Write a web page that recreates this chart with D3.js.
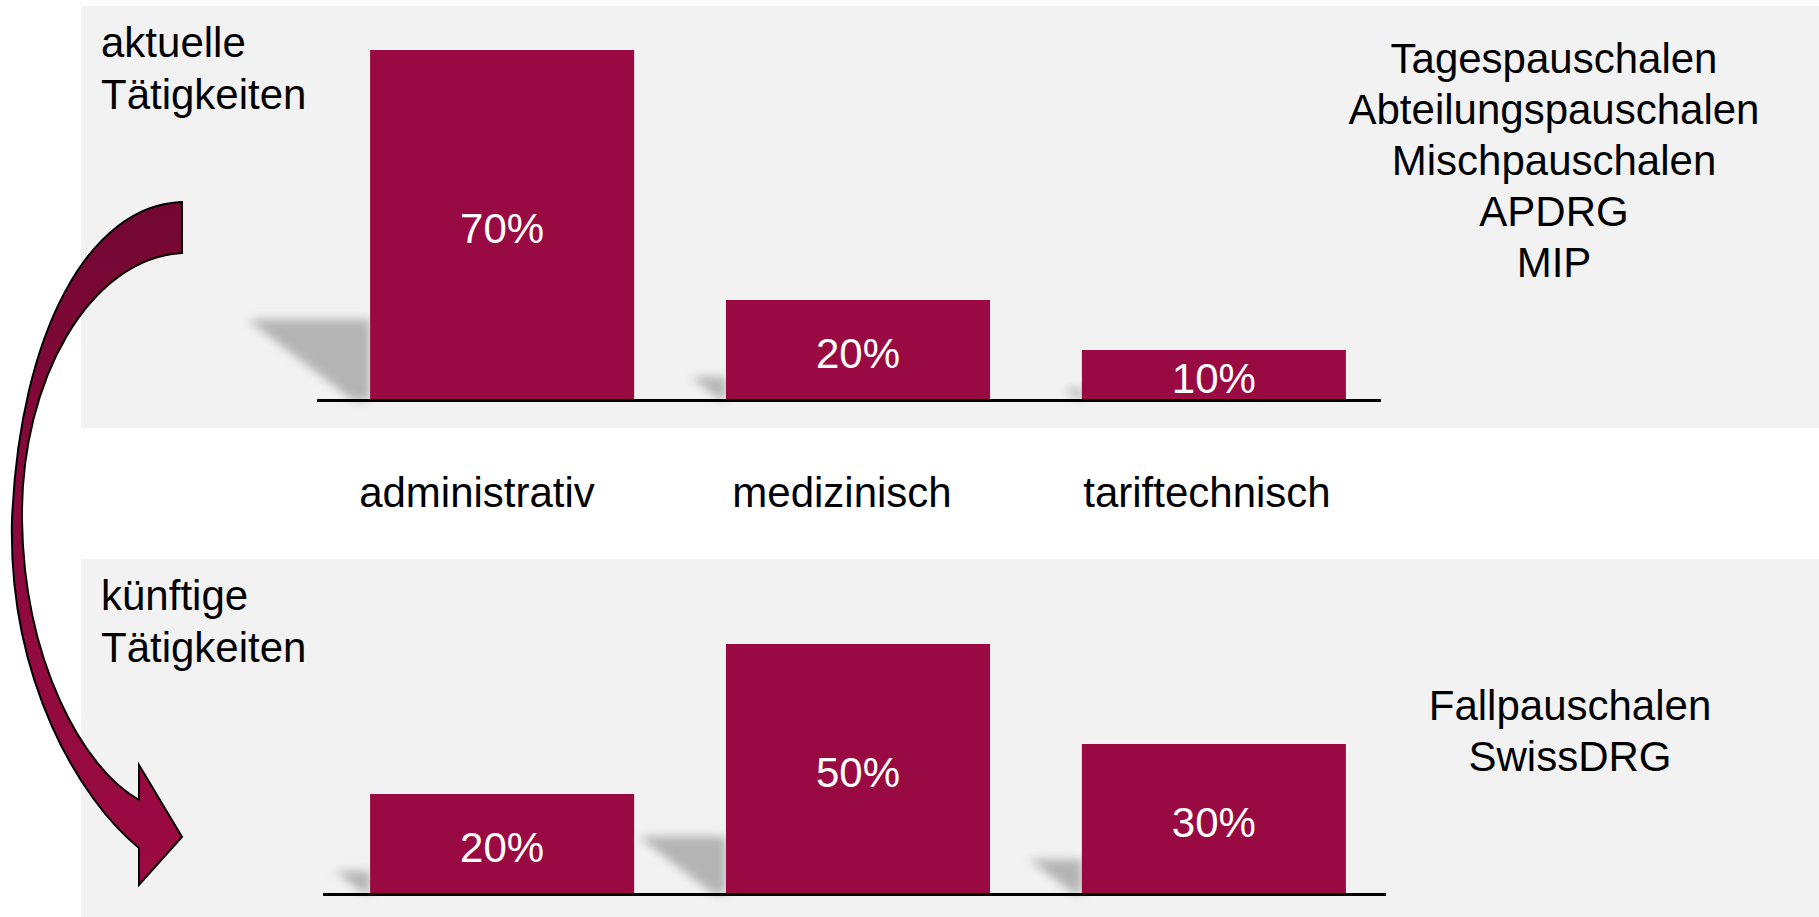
<!DOCTYPE html>
<html>
<head>
<meta charset="utf-8">
<script src="https://cdn.jsdelivr.net/npm/d3@7"></script>
<style>
  html, body { margin: 0; padding: 0; background: #ffffff; }
  svg { display: block; }
  text { font-family: "Liberation Sans", Arial, Helvetica, sans-serif; }
</style>
</head>
<body>
<svg id="chart" width="1819" height="917"></svg>
<script>
// ---- data ----
const categories = ["administrativ", "medizinisch", "tariftechnisch"];
const currentValues = [70, 20, 10];   // aktuelle Tätigkeiten (%)
const futureValues  = [20, 50, 30];   // künftige Tätigkeiten (%)
const currentTitle = ["aktuelle", "Tätigkeiten"];
const futureTitle  = ["künftige", "Tätigkeiten"];
const currentTariffs = ["Tagespauschalen", "Abteilungspauschalen", "Mischpauschalen", "APDRG", "MIP"];
const futureTariffs  = ["Fallpauschalen", "SwissDRG"];

// ---- setup ----
const W = 1819, H = 917;
const svg = d3.select("#chart");
const barColor = "#9a0a42";
const panelColor = "#f2f2f2";
const fontSize = 42;

const defs = svg.append("defs");
defs.append("filter").attr("id", "blur")
  .attr("x", "-50%").attr("y", "-50%").attr("width", "200%").attr("height", "200%")
  .append("feGaussianBlur").attr("stdDeviation", 5);
const grad = defs.append("linearGradient").attr("id", "arrowGrad")
  .attr("x1", 0).attr("y1", 0).attr("x2", 0).attr("y2", 1);
grad.append("stop").attr("offset", "0%").attr("stop-color", "#730732");
grad.append("stop").attr("offset", "55%").attr("stop-color", "#8e0a3e");
grad.append("stop").attr("offset", "100%").attr("stop-color", "#9c0a42");

// Panels
svg.append("rect").attr("x", 81).attr("y", 6).attr("width", W - 81).attr("height", 422).attr("fill", panelColor);
svg.append("rect").attr("x", 81).attr("y", 559).attr("width", W - 81).attr("height", H - 559).attr("fill", panelColor);

// Scales
const x = d3.scaleBand().domain(categories)
  .range([316, 1400]).paddingInner(0.258).paddingOuter(0.152);
const xLabel = d3.scalePoint().domain(categories).range([477, 1207]);

const panels = [
  { values: currentValues, base: 400, title: currentTitle, titleY: 57, tariffs: currentTariffs, tariffX: 1554, tariffY: 73, lineX: [317, 1381] },
  { values: futureValues,  base: 894, title: futureTitle,  titleY: 610, tariffs: futureTariffs, tariffX: 1570, tariffY: 720, lineX: [323, 1386] }
];

panels.forEach(p => {
  const y = d3.scaleLinear().domain([0, 70]).range([p.base, p.base - 350]);
  const g = svg.append("g");
  const data = categories.map((c, i) => ({ cat: c, v: p.values[i] }));

  // shadows
  g.selectAll("polygon.shadow").data(data).join("polygon")
    .attr("class", "shadow")
    .attr("points", d => {
      const h = p.base - y(d.v);
      const l = x(d.cat);
      return [[l - 0.35 * h, p.base - 0.23 * h], [l, p.base - 0.23 * h], [l, p.base], [l - 0.05 * h, p.base]]
        .map(q => q.join(",")).join(" ");
    })
    .attr("fill", "#b4b4b4")
    .attr("filter", "url(#blur)");

  // bars
  g.selectAll("rect.bar").data(data).join("rect")
    .attr("class", "bar")
    .attr("x", d => x(d.cat))
    .attr("y", d => y(d.v))
    .attr("width", x.bandwidth())
    .attr("height", d => p.base - y(d.v))
    .attr("fill", barColor);

  // value labels
  g.selectAll("text.val").data(data).join("text")
    .attr("class", "val")
    .attr("x", d => x(d.cat) + x.bandwidth() / 2)
    .attr("y", d => (y(d.v) + p.base) / 2 + 3)
    .attr("text-anchor", "middle")
    .attr("dominant-baseline", "central")
    .attr("font-size", fontSize)
    .attr("fill", "#ffffff")
    .text(d => d.v + "%");

  // baseline
  g.append("line")
    .attr("x1", p.lineX[0]).attr("x2", p.lineX[1])
    .attr("y1", p.base + 0.5).attr("y2", p.base + 0.5)
    .attr("stroke", "#000").attr("stroke-width", 3);

  // title
  g.selectAll("text.title").data(p.title).join("text")
    .attr("class", "title")
    .attr("x", 101).attr("y", (d, i) => p.titleY + i * 51.5)
    .attr("font-size", fontSize).attr("fill", "#000")
    .text(d => d);

  // tariffs
  g.selectAll("text.tariff").data(p.tariffs).join("text")
    .attr("class", "tariff")
    .attr("x", p.tariffX)
    .attr("y", (d, i) => p.tariffY + i * 51)
    .attr("text-anchor", "middle")
    .attr("font-size", fontSize).attr("fill", "#000")
    .text(d => d);
});

// category labels
svg.append("g").selectAll("text").data(categories).join("text")
  .attr("x", d => xLabel(d))
  .attr("y", 507)
  .attr("text-anchor", "middle")
  .attr("font-size", fontSize).attr("fill", "#000")
  .text(d => d);

// curved arrow
const arrow = d3.path();
arrow.moveTo(182, 202);
arrow.bezierCurveTo(90, 205, 20, 330, 12, 520);
arrow.bezierCurveTo(8, 680, 80, 800, 139, 848);
arrow.lineTo(139, 885);
arrow.lineTo(182, 837);
arrow.lineTo(139, 765);
arrow.lineTo(139, 800);
arrow.bezierCurveTo(82, 768, 24, 660, 22, 520);
arrow.bezierCurveTo(20, 380, 90, 258, 182, 253);
arrow.closePath();
svg.append("path").attr("d", arrow.toString())
  .attr("fill", "url(#arrowGrad)")
  .attr("stroke", "#000").attr("stroke-width", 2).attr("stroke-linejoin", "miter");
</script>
</body>
</html>
